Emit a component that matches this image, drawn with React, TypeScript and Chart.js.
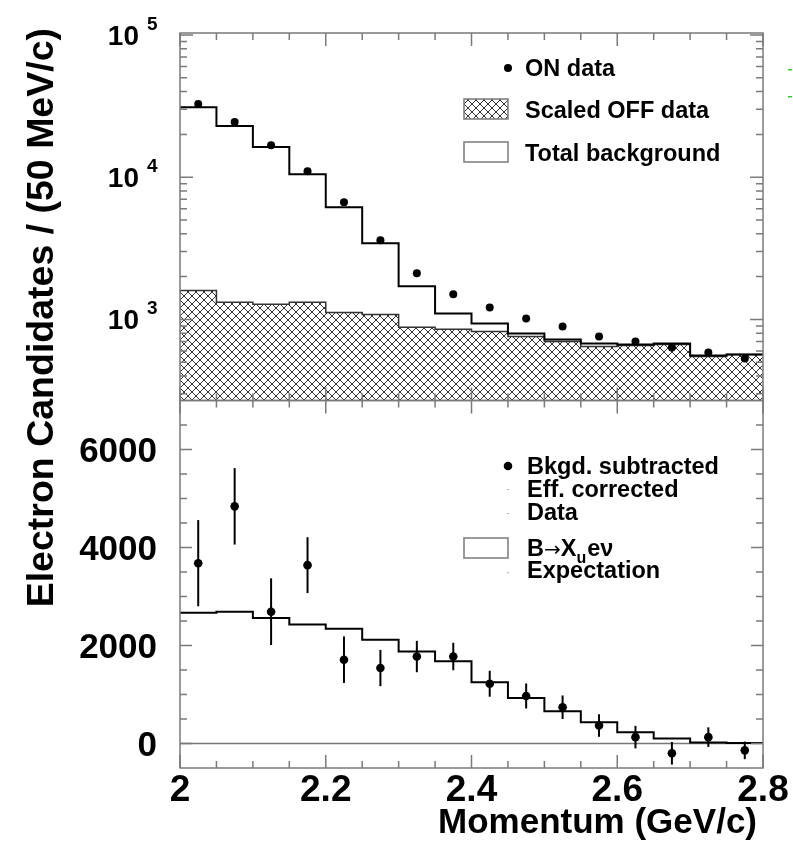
import React, { useEffect, useRef } from "react";
import { Chart, registerables } from "chart.js";

Chart.register(...registerables);

// ---------- data ----------
const binEdges = [2.0, 2.05, 2.1, 2.15, 2.2, 2.25, 2.3, 2.35, 2.4, 2.45, 2.5, 2.55, 2.6, 2.65, 2.7, 2.75, 2.8];
const binCenters = [2.025, 2.075, 2.125, 2.175, 2.225, 2.275, 2.325, 2.375, 2.425, 2.475, 2.525, 2.575, 2.625, 2.675, 2.725, 2.775];

const onData = [32700, 24400, 16800, 11000, 6670, 3600, 2110, 1500, 1215, 1016, 893, 759, 700, 635, 586, 531];
const scaledOffData = [1600, 1318, 1276, 1318, 1120, 1084, 879, 851, 823, 759, 700, 646, 656, 667, 548, 567];
const totalBackground = [31100, 22900, 16300, 10500, 6150, 3430, 1710, 1100, 937, 797, 723, 678, 667, 678, 557, 567];

const bkgdSubtracted = [3680, 4840, 2690, 3640, 1710, 1540, 1775, 1775, 1220, 970, 740, 367, 130, -200, 130, -140];
const bkgdSubtractedErr = [880, 780, 680, 570, 475, 370, 320, 280, 265, 255, 240, 230, 230, 230, 200, 180];
const xuenuExpectation = [2670, 2690, 2560, 2430, 2340, 2115, 1880, 1680, 1250, 930, 660, 435, 230, 100, 20, 10];

const xMajorTicks = [2.0, 2.2, 2.4, 2.6, 2.8];
const xTickLabels = ["2", "2.2", "2.4", "2.6", "2.8"];
const xMinorTicks = [2.05, 2.1, 2.15, 2.25, 2.3, 2.35, 2.45, 2.5, 2.55, 2.65, 2.7, 2.75];

const logMajorTicks = [1e3, 1e4, 1e5];
const logTickExponents = ["3", "4", "5"];
const logMinorTicks = [300, 400, 500, 600, 700, 800, 900, 2000, 3000, 4000, 5000, 6000, 7000, 8000, 9000,
  20000, 30000, 40000, 50000, 60000, 70000, 80000, 90000];

const linMajorTicks = [0, 2000, 4000, 6000];
const linTickLabels = ["0", "2000", "4000", "6000"];
const linMinorTicks = [500, 1000, 1500, 2500, 3000, 3500, 4500, 5000, 5500, 6500];

const FONT = '"Liberation Sans", Arial, Helvetica, sans-serif';

function stepPoints(vals: number[]) {
  const pts = vals.map((v, i) => ({ x: binEdges[i], y: v }));
  pts.push({ x: binEdges[vals.length], y: vals[vals.length - 1] });
  return pts;
}

function makeHatch(): CanvasPattern | string {
  const c = document.createElement("canvas");
  const s = 8;
  c.width = s;
  c.height = s;
  const g = c.getContext("2d");
  if (!g) return "#ccc";
  g.fillStyle = "#ffffff";
  g.fillRect(0, 0, s, s);
  g.strokeStyle = "#333333";
  g.lineWidth = 1;
  for (const d of [-s, 0, s]) {
    g.beginPath();
    g.moveTo(d, 0);
    g.lineTo(d + s, s);
    g.stroke();
    g.beginPath();
    g.moveTo(d + s, 0);
    g.lineTo(d, s);
    g.stroke();
  }
  const p = g.createPattern(c, "repeat");
  return p || "#ccc";
}

function txt(ctx: CanvasRenderingContext2D, s: string, x: number, y: number, size: number,
  align: CanvasTextAlign = "left", weight = "bold", family = FONT) {
  ctx.font = `${weight} ${size}px ${family}`;
  ctx.textAlign = align;
  ctx.textBaseline = "alphabetic";
  ctx.fillText(s, x, y);
  return ctx.measureText(s).width;
}

export default function App() {
  const ref = useRef<HTMLCanvasElement | null>(null);

  useEffect(() => {
    if (!ref.current) return;
    const hatch = makeHatch();

    const framePlugin = {
      id: "frameTicks",
      afterDatasetsDraw(chart: any) {
        const ctx: CanvasRenderingContext2D = chart.ctx;
        const xs = chart.scales.x;
        const yT = chart.scales.yT;
        const yB = chart.scales.yB;
        const L = chart.chartArea.left;
        const R = chart.chartArea.right;

        // error bars
        ctx.save();
        ctx.strokeStyle = "#000";
        ctx.lineWidth = 2;
        bkgdSubtracted.forEach((v, i) => {
          const px = xs.getPixelForValue(binCenters[i]);
          ctx.beginPath();
          ctx.moveTo(px, yB.getPixelForValue(v - bkgdSubtractedErr[i]));
          ctx.lineTo(px, yB.getPixelForValue(v + bkgdSubtractedErr[i]));
          ctx.stroke();
        });
        ctx.restore();

        ctx.save();
        ctx.strokeStyle = "#7a7a7a";
        ctx.lineWidth = 1.5;
        const panels = [
          { ys: yT, major: logMajorTicks, minor: logMinorTicks, majLen: 13, minLen: 7 },
          { ys: yB, major: linMajorTicks, minor: linMinorTicks, majLen: 12, minLen: 7 },
        ];
        for (const pn of panels) {
          const T = pn.ys.top;
          const B = pn.ys.bottom;
          ctx.strokeRect(L, T, R - L, B - T);
          ctx.beginPath();
          for (const v of xMajorTicks) {
            const p = xs.getPixelForValue(v);
            ctx.moveTo(p, B); ctx.lineTo(p, B - 13);
            ctx.moveTo(p, T); ctx.lineTo(p, T + 13);
          }
          for (const v of xMinorTicks) {
            const p = xs.getPixelForValue(v);
            ctx.moveTo(p, B); ctx.lineTo(p, B - 7);
            ctx.moveTo(p, T); ctx.lineTo(p, T + 7);
          }
          for (const v of pn.major) {
            const p = pn.ys.getPixelForValue(v);
            if (p < T - 0.5 || p > B + 0.5) continue;
            ctx.moveTo(L, p); ctx.lineTo(L + pn.majLen, p);
            ctx.moveTo(R, p); ctx.lineTo(R - pn.majLen, p);
          }
          for (const v of pn.minor) {
            const p = pn.ys.getPixelForValue(v);
            if (p < T - 0.5 || p > B + 0.5) continue;
            ctx.moveTo(L, p); ctx.lineTo(L + pn.minLen, p);
            ctx.moveTo(R, p); ctx.lineTo(R - pn.minLen, p);
          }
          ctx.stroke();
        }
        ctx.restore();

        // ---- labels ----
        ctx.save();
        ctx.fillStyle = "#000";
        // x tick labels
        xMajorTicks.forEach((v, i) => {
          txt(ctx, xTickLabels[i], xs.getPixelForValue(v), 801, 37, "center");
        });
        // log tick labels
        logMajorTicks.forEach((v, i) => {
          const p = yT.getPixelForValue(v);
          txt(ctx, "10", 139, p + 10, 28, "right");
          txt(ctx, logTickExponents[i], 147, p - 5, 19, "left");
        });
        // linear tick labels
        linMajorTicks.forEach((v, i) => {
          const p = yB.getPixelForValue(v);
          txt(ctx, linTickLabels[i], 157, p + 12.5, 35, "right");
        });
        // x title
        txt(ctx, "Momentum (GeV/c)", 757, 833, 35, "right");
        // y title
        ctx.save();
        ctx.translate(53, 28);
        ctx.rotate(-Math.PI / 2);
        txt(ctx, "Electron Candidates / (50 MeV/c)", 0, 0, 37.5, "right");
        ctx.restore();

        // ---- legend top ----
        ctx.beginPath();
        ctx.arc(508, 68, 4, 0, Math.PI * 2);
        ctx.fill();
        txt(ctx, "ON data", 525, 76, 23.5);
        ctx.fillStyle = hatch as any;
        ctx.fillRect(464, 99, 44, 20);
        ctx.strokeStyle = "#7a7a7a";
        ctx.lineWidth = 1.5;
        ctx.strokeRect(464, 99, 44, 20);
        ctx.fillStyle = "#000";
        txt(ctx, "Scaled OFF data", 525, 118, 23.5);
        ctx.strokeRect(464, 142, 44, 20);
        txt(ctx, "Total background", 525, 161, 23.5);

        // ---- legend bottom ----
        ctx.beginPath();
        ctx.arc(508, 466, 4.3, 0, Math.PI * 2);
        ctx.fill();
        txt(ctx, "Bkgd. subtracted", 527, 474, 23.5);
        ctx.fillStyle = "#888";
        ctx.fillRect(507.5, 489, 1.2, 1.2);
        ctx.fillRect(507.5, 513, 1.2, 1.2);
        ctx.fillRect(507.5, 572, 1.2, 1.2);
        ctx.fillStyle = "#000";
        txt(ctx, "Eff. corrected", 527, 497, 23.5);
        txt(ctx, "Data", 527, 520, 23.5);
        ctx.strokeRect(464, 538, 44, 20);
        let cx = 527;
        cx += txt(ctx, "B", cx, 556, 23.5);
        cx += txt(ctx, "\u2192", cx, 556, 20, "left", "normal", '"DejaVu Sans", sans-serif');
        cx += txt(ctx, "X", cx, 556, 23.5);
        cx += txt(ctx, "u", cx, 563, 16);
        txt(ctx, "e\u03bd", cx + 1, 556, 23.5);
        txt(ctx, "Expectation", 527, 578, 23.5);

        // green marks at right edge
        ctx.fillStyle = "#33cc33";
        ctx.fillRect(788, 69, 4, 1.5);
        ctx.fillRect(788, 96, 4, 1.5);
        ctx.restore();
      },
    };

    const chart = new Chart(ref.current, {
      type: "line",
      data: {
        datasets: [
          {
            label: "ON data",
            data: binCenters.map((x, i) => ({ x, y: onData[i] })),
            yAxisID: "yT",
            showLine: false,
            pointRadius: 4,
            pointBackgroundColor: "#000",
            pointBorderWidth: 0,
            borderColor: "#000",
            order: 0,
          },
          {
            label: "Total background",
            data: stepPoints(totalBackground),
            yAxisID: "yT",
            stepped: "before",
            borderColor: "#000",
            borderWidth: 2,
            pointRadius: 0,
            fill: false,
            order: 1,
          },
          {
            label: "Scaled OFF data",
            data: stepPoints(scaledOffData),
            yAxisID: "yT",
            stepped: "before",
            borderColor: "#333",
            borderWidth: 1.5,
            pointRadius: 0,
            fill: "start",
            backgroundColor: hatch as any,
            order: 2,
          },
          {
            label: "Bkgd. subtracted",
            data: binCenters.map((x, i) => ({ x, y: bkgdSubtracted[i] })),
            yAxisID: "yB",
            showLine: false,
            pointRadius: 4.3,
            pointBackgroundColor: "#000",
            pointBorderWidth: 0,
            borderColor: "#000",
            order: 0,
          },
          {
            label: "B->Xu e nu Expectation",
            data: stepPoints(xuenuExpectation),
            yAxisID: "yB",
            stepped: "before",
            borderColor: "#000",
            borderWidth: 2,
            pointRadius: 0,
            fill: false,
            order: 1,
          },
          {
            label: "zero",
            data: [{ x: 2.0, y: 0 }, { x: 2.8, y: 0 }],
            yAxisID: "yB",
            borderColor: "#777",
            borderWidth: 1.5,
            pointRadius: 0,
            fill: false,
            order: 3,
          },
        ] as any,
      },
      options: {
        responsive: false,
        animation: false,
        devicePixelRatio: 1,
        events: [],
        layout: { padding: { left: 180, top: 33, right: 30, bottom: 76 } },
        plugins: { legend: { display: false }, tooltip: { enabled: false }, title: { display: false } },
        scales: {
          x: { type: "linear", min: 2.0, max: 2.8, bounds: "data", display: false },
          yB: { type: "linear", min: -500, max: 7000, bounds: "data", display: false, stack: "panels", stackWeight: 1, position: "left" },
          yT: { type: "logarithmic", min: 269, max: 103300, bounds: "data", display: false, stack: "panels", stackWeight: 1, position: "left" },
        } as any,
      },
      plugins: [framePlugin],
    });
    return () => chart.destroy();
  }, []);

  return (
    <div style={{ position: "absolute", left: 0, top: 0, width: 793, height: 844, background: "#fff" }}>
      <canvas ref={ref} width={793} height={844} style={{ display: "block" }} />
    </div>
  );
}
